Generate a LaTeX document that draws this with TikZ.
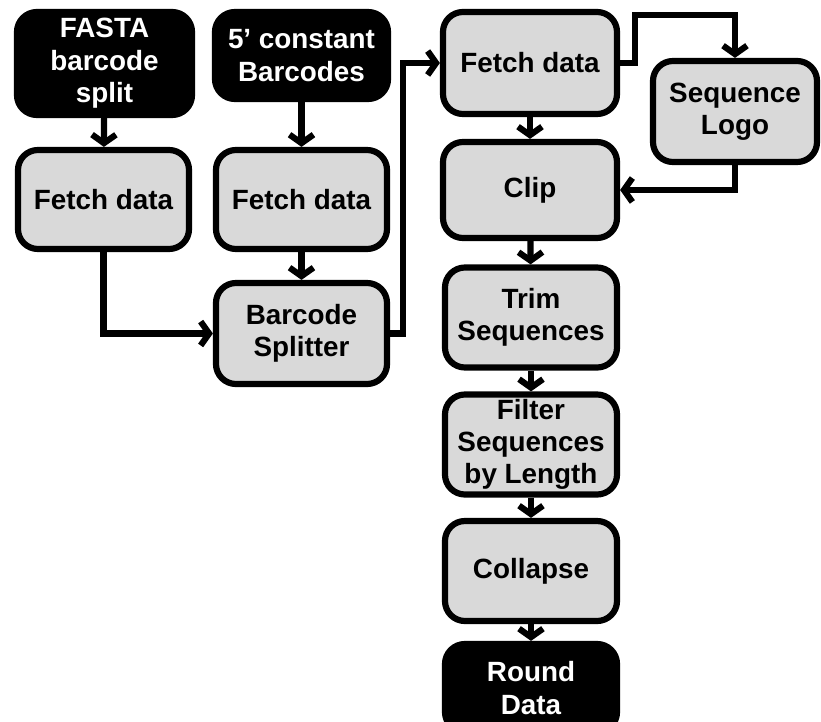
\documentclass[tikz,border=0pt]{standalone}
\usepackage{fontspec}
\setmainfont{Liberation Sans}
\usetikzlibrary{arrows.meta, shadows}

\begin{document}
\begin{tikzpicture}[x=0.025cm, y=-0.025cm,
    box/.style={draw=black, line width=4.4pt, rounded corners=0.5cm, fill=gray!30,
      align=center, font=\bfseries\fontsize{19.8}{23}\selectfont,
      minimum width=4.3cm, minimum height=2.5cm, inner sep=2pt,
      drop shadow={shadow xshift=1.5pt, shadow yshift=-1.5pt, opacity=0.25}},
    datbox/.style={box, fill=black, text=white},
    flow/.style={line width=4.4pt, -{Straight Barb[length=6pt, width=17pt]}}]
  \useasboundingbox (0,0) rectangle (821,722);

  % Entradas
  \node[datbox, minimum width=4.375cm, minimum height=2.575cm] (fasta) at (104.5,63.5) {FASTA\\barcode\\split};
  \node[datbox, minimum width=4.325cm, minimum height=2.175cm] (const) at (301.5,55.5) {5’ constant\\Barcodes};

  % Columnas izquierda y central
  \node[box, minimum width=4.275cm, minimum height=2.475cm] (fetchA) at (103.5,199.5) {Fetch data};
  \node[box, minimum width=4.275cm, minimum height=2.475cm] (fetchB) at (301.5,199.5) {Fetch data};
  \node[box, minimum width=4.275cm, minimum height=2.525cm] (split) at (301.5,333.5) {Barcode\\Splitter};

  % Columna derecha
  \node[box, minimum width=4.35cm, minimum height=2.55cm] (fetchC) at (530,63) {Fetch data};
  \node[box, minimum width=4.1cm, minimum height=2.525cm] (logo) at (735,111.5) {Sequence\\Logo};
  \node[box, minimum width=4.35cm, minimum height=2.4cm] (clip) at (530,190) {Clip};
  \node[box] (trim) at (531,317.5) {Trim\\Sequences};
  \node[box] (filter) at (531,444.5) {Filter\\Sequences\\by Length};
  \node[box] (collapse) at (531,571) {Collapse};
  \node[datbox, minimum height=2.2cm] (round) at (531,688) {Round\\Data};

  % Puntos de quiebre
  \coordinate (j1) at (403,333.5);
  \coordinate (k1) at (635,15);

  % Conexiones
  \draw[flow] (fasta) -- (fetchA);
  \draw[flow] (const) -- (fetchB);
  \draw[flow] (fetchA.south) |- (split.west);
  \draw[flow] (fetchB) -- (split);
  \draw[flow] (split.east) -- (j1) |- (fetchC.west);
  \draw[flow] (fetchC.east) -| (k1) -| (logo.north);
  \draw[flow] (logo.south) |- (clip.east);
  \draw[flow] (fetchC) -- (clip);
  \draw[flow] (clip) -- (trim);
  \draw[flow] (trim) -- (filter);
  \draw[flow] (filter) -- (collapse);
  \draw[flow] (collapse) -- (round);
\end{tikzpicture}
\end{document}
